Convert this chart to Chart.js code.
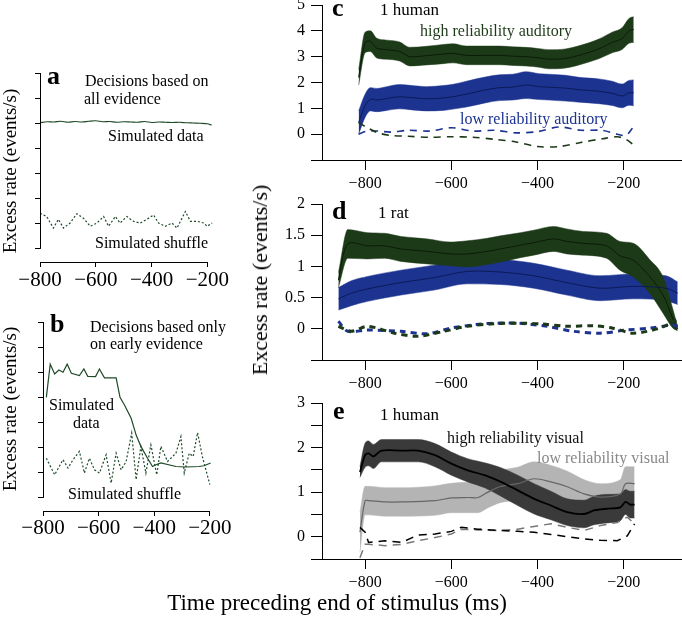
<!DOCTYPE html>
<html>
<head>
<meta charset="utf-8">
<script src="https://cdn.jsdelivr.net/npm/chart.js@4.4.1/dist/chart.umd.min.js"></script>
<style>
  body { margin: 0; background: #fff; }
  #fig { position: relative; width: 682px; height: 620px; overflow: hidden; font-family: "Liberation Serif", "Times New Roman", serif; }
  canvas { position: absolute; }
  .t { position: absolute; white-space: nowrap; line-height: 1; color: #000; }
</style>
</head>
<body>
<div id="fig">
  <canvas id="chartA" width="240" height="240" style="left:0;top:60px"></canvas>
  <canvas id="chartB" width="240" height="250" style="left:0;top:300px"></canvas>
  <canvas id="chartC" width="432" height="200" style="left:250px;top:0"></canvas>
  <canvas id="chartD" width="432" height="210" style="left:250px;top:190px"></canvas>
  <canvas id="chartE" width="432" height="208" style="left:250px;top:392px"></canvas>
</div>
<script>
// ====== Data (ms before end of stimulus, excess rate in events/s) ======
// a: decisions based on all evidence (simulated)
const aDataT = [-800, -775, -750, -725, -700, -675, -650, -625, -600, -575, -550, -525, -500, -475, -450, -425, -400, -375, -350, -325, -300, -275, -250, -225, -200, -185];
const aDataV = [5.02, 5.06, 5.05, 5.08, 5.04, 5.07, 5.05, 5.08, 5.1, 5.06, 5.07, 5.04, 5.06, 5.05, 5.04, 5.07, 5.03, 5.05, 5.04, 5.03, 5.04, 5.02, 5.01, 5.0, 4.98, 4.93];
const aShufT = [-800, -776, -752, -734, -716, -692, -668, -644, -620, -596, -572, -554, -530, -513, -489, -465, -441, -417, -393, -375, -351, -327, -309, -279, -261, -237, -213, -201, -183];
const aShufV = [1.42, 1.29, 0.83, 1.18, 0.83, 1.03, 1.4, 1.22, 0.9, 1.03, 1.29, 0.9, 1.29, 1.03, 1.29, 1.1, 1.03, 1.18, 1.35, 1.03, 0.9, 1.03, 0.83, 1.49, 1.1, 1.1, 1.03, 0.9, 1.03];

// b: decisions based only on early evidence (simulated)
const bDataT = [-788, -774, -758, -743, -728, -713, -698, -669, -653, -639, -611, -597, -579, -537, -523, -507, -483, -465, -448, -424, -406, -394, -376, -322, -286, -239, -221, -197];
const bDataV = [4.0, 5.32, 4.93, 5.09, 5.0, 5.32, 4.96, 4.87, 5.13, 4.84, 4.83, 5.13, 4.78, 4.78, 4.0, 3.7, 3.17, 2.5, 2.05, 1.58, 1.25, 1.32, 1.39, 1.25, 1.23, 1.25, 1.28, 1.39];
const bShufT = [-788, -758, -728, -710, -692, -669, -651, -633, -615, -597, -573, -555, -537, -519, -501, -481, -465, -448, -430, -412, -391, -376, -352, -322, -304, -292, -274, -260, -244, -227, -200];
const bShufV = [1.58, 0.92, 1.52, 1.19, 1.52, 1.85, 0.99, 1.58, 1.12, 0.99, 1.72, 0.59, 1.78, 1.12, 1.45, 2.58, 0.73, 2.05, 0.99, 2.11, 0.92, 2.05, 1.45, 1.78, 2.44, 0.99, 1.78, 1.65, 2.6, 1.65, 0.53];

// c: 1 human, auditory (mean and half band width)
const cT = [-815, -800, -788, -773, -750, -720, -696, -658, -619, -596, -565, -519, -488, -458, -427, -396, -373, -335, -304, -258, -227, -204, -188, -177];
const cHighM = [2.2, 3.55, 3.6, 3.33, 3.27, 3.2, 3.0, 3.04, 3.1, 3.13, 3.05, 3.05, 3.05, 3.02, 3.0, 2.95, 2.9, 2.93, 3.05, 3.3, 3.55, 3.7, 4.0, 4.05];
const cHighE = [0.3, 0.4, 0.4, 0.38, 0.37, 0.37, 0.36, 0.36, 0.37, 0.37, 0.36, 0.36, 0.36, 0.36, 0.36, 0.36, 0.37, 0.37, 0.37, 0.38, 0.4, 0.42, 0.48, 0.5];
const cLowM = [0.45, 1.1, 1.35, 1.32, 1.38, 1.45, 1.42, 1.37, 1.4, 1.45, 1.55, 1.72, 1.8, 1.82, 1.9, 1.84, 1.82, 1.78, 1.72, 1.66, 1.58, 1.48, 1.6, 1.6];
const cLowE = [0.45, 0.45, 0.45, 0.45, 0.46, 0.47, 0.47, 0.47, 0.48, 0.48, 0.5, 0.5, 0.5, 0.5, 0.52, 0.5, 0.5, 0.5, 0.48, 0.48, 0.47, 0.46, 0.48, 0.5];
const cDashT = [-815, -795, -770, -740, -700, -650, -600, -550, -500, -450, -400, -350, -300, -250, -215, -195, -177];
const cHighShuf = [0.45, 0.25, 0.05, -0.05, -0.08, -0.12, -0.1, -0.12, -0.2, -0.3, -0.48, -0.48, -0.32, -0.18, -0.1, -0.2, -0.42];
const cLowShuf = [0.0, 0.12, 0.12, 0.08, 0.15, 0.12, 0.25, 0.12, 0.15, 0.05, 0.1, 0.28, 0.15, 0.15, 0.0, -0.05, 0.3];

// d: 1 rat
const dHighT = [-862, -840, -794, -755, -717, -655, -602, -563, -517, -486, -440, -409, -363, -332, -294, -240, -209, -178, -140, -109, -86, -75];
const dHighM = [0.78, 1.36, 1.33, 1.33, 1.28, 1.24, 1.2, 1.2, 1.24, 1.28, 1.34, 1.38, 1.44, 1.4, 1.37, 1.33, 1.17, 1.1, 0.84, 0.54, 0.16, 0.0];
const dHighE = [0.12, 0.23, 0.21, 0.2, 0.2, 0.2, 0.19, 0.21, 0.21, 0.21, 0.2, 0.2, 0.2, 0.2, 0.19, 0.2, 0.23, 0.27, 0.27, 0.29, 0.15, 0.03];
const dLowT = [-862, -832, -794, -717, -640, -563, -486, -409, -332, -255, -178, -102, -75];
const dLowM = [0.48, 0.57, 0.64, 0.74, 0.82, 0.92, 0.91, 0.85, 0.74, 0.65, 0.68, 0.65, 0.57];
const dLowE = [0.18, 0.2, 0.2, 0.2, 0.2, 0.2, 0.2, 0.2, 0.2, 0.2, 0.2, 0.2, 0.18];
const dHighShufT = [-862, -832, -794, -732, -678, -617, -563, -502, -440, -394, -332, -271, -225, -178, -117, -78];
const dHighShuf = [0.04, -0.04, 0.04, -0.07, -0.12, -0.04, 0.04, 0.08, 0.09, 0.08, 0.04, 0.05, 0.01, -0.07, 0.01, 0.14];
const dLowShufT = [-862, -840, -794, -717, -655, -602, -525, -448, -378, -317, -255, -194, -140, -86, -75];
const dLowShuf = [0.12, -0.04, -0.02, -0.04, -0.08, 0.01, 0.08, 0.09, 0.04, -0.04, -0.07, -0.02, 0.01, 0.06, 0.04];

// e: 1 human, visual
const eHighT = [-812, -800, -792, -781, -762, -715, -677, -638, -600, -562, -523, -485, -446, -408, -369, -331, -292, -269, -238, -208, -196, -185, -175];
const eHighM = [1.45, 1.83, 1.87, 1.8, 1.93, 1.93, 1.93, 1.83, 1.64, 1.49, 1.38, 1.23, 1.04, 0.85, 0.7, 0.55, 0.51, 0.59, 0.63, 0.66, 0.78, 0.72, 0.72];
const eHighE = [0.12, 0.27, 0.28, 0.27, 0.25, 0.25, 0.25, 0.26, 0.26, 0.26, 0.28, 0.32, 0.34, 0.34, 0.32, 0.3, 0.31, 0.32, 0.32, 0.3, 0.28, 0.3, 0.3];
const eLowT = [-812, -800, -792, -754, -715, -638, -600, -562, -538, -515, -485, -446, -408, -369, -331, -292, -254, -208, -196, -175];
const eLowM = [0.1, 0.81, 0.81, 0.78, 0.78, 0.81, 0.87, 0.88, 0.88, 1.0, 1.13, 1.19, 1.3, 1.23, 1.12, 0.96, 0.89, 0.96, 1.19, 1.19];
const eLowE = [0.45, 0.32, 0.32, 0.32, 0.32, 0.33, 0.33, 0.34, 0.34, 0.35, 0.36, 0.37, 0.38, 0.37, 0.35, 0.32, 0.3, 0.32, 0.38, 0.38];
const eDashT = [-812, -800, -792, -754, -715, -677, -638, -600, -577, -538, -485, -446, -408, -369, -331, -292, -254, -215, -192, -175];
const eHighShuf = [0.21, 0.1, -0.13, -0.09, -0.13, 0.04, 0.06, 0.12, 0.21, 0.17, 0.14, 0.12, 0.1, 0.05, 0.0, -0.05, -0.08, -0.09, 0.02, 0.29];
const eLowShuf = [-0.47, -0.17, -0.17, -0.2, -0.17, -0.09, -0.02, 0.06, 0.17, 0.15, 0.14, 0.17, 0.23, 0.29, 0.21, 0.14, 0.25, 0.32, 0.44, 0.29];

// tick values
const xTicks = [-800, -600, -400, -200];
const simYTicks = [0, 1, 2, 3, 4, 5, 6, 7];
const cYTicks = [-1, 0, 1, 2, 3, 4, 5];
const dYTicks = [-0.5, 0, 0.5, 1, 1.5, 2];
const eYTicks = [-0.5, 0, 0.5, 1, 1.5, 2, 2.5, 3];

// ====== Colours ======
const GREEN = "#1d3a18", GREEN_D = "#0b1b08";
const BLUE = "#1c3390", BLUE_D = "#0c1a58";
const BLACK = "#3a3a3a", GREY = "#b4b4b4", GREY_D = "#666666";
const SIM = "#1e4a28";

Chart.defaults.font.family = '"Liberation Serif", "Times New Roman", serif';
Chart.defaults.color = "#000";
Chart.defaults.animation = false;

const minus = v => String(v).replace("-", "\u2212");
const pts = (T, V) => T.map((t, i) => ({ x: t, y: V[i] }));

function line(T, V, color, width, dash, order, tension) {
    return {
        data: pts(T, V), borderColor: color, borderWidth: width, borderDash: dash || [],
        pointRadius: 0, fill: false, order, tension: tension || 0,
    };
}

function band(T, M, E, color, order) {
    return [
        { data: T.map((t, i) => ({ x: t, y: M[i] + E[i] })), fill: "+1", backgroundColor: color,
          borderColor: color, borderWidth: 0.5, pointRadius: 0, order, cubicInterpolationMode: "monotone" },
        { data: T.map((t, i) => ({ x: t, y: M[i] - E[i] })), fill: false,
          borderColor: color, borderWidth: 0.5, pointRadius: 0, order, cubicInterpolationMode: "monotone" },
    ];
}

// axis lines that stop at given values (panels a and b)
const spines = {
    id: "spines",
    afterDraw(chart, args, opts) {
        if (!opts.x) return;
        const { ctx, chartArea, scales } = chart;
        ctx.save();
        ctx.strokeStyle = "#000";
        ctx.lineWidth = 1;
        ctx.beginPath();
        const x0 = Math.round(chartArea.left) + 0.5;
        ctx.moveTo(x0, scales.y.getPixelForValue(opts.y[0]));
        ctx.lineTo(x0, scales.y.getPixelForValue(opts.y[1]));
        const yb = Math.round(chartArea.bottom) + 0.5;
        ctx.moveTo(scales.x.getPixelForValue(opts.x[0]), yb);
        ctx.lineTo(scales.x.getPixelForValue(opts.x[1]), yb);
        ctx.stroke();
        ctx.restore();
    },
};

function makeChart(id, p) {
    return new Chart(document.getElementById(id), {
        type: "line",
        data: { datasets: p.datasets },
        plugins: [spines],
        options: {
            responsive: false,
            layout: { padding: p.padding },
            plugins: { legend: { display: false }, tooltip: { enabled: false }, spines: p.spines || {} },
            scales: {
                x: {
                    type: "linear", min: p.xMin, max: p.xMax,
                    afterBuildTicks: s => { s.ticks = xTicks.map(v => ({ value: v })); },
                    afterFit: s => { s.height = p.xH; s.paddingLeft = 0; s.paddingRight = 0; },
                    grid: { drawOnChartArea: false, tickLength: p.xTick, color: "#000" },
                    border: { display: !p.spines, color: "#000" },
                    ticks: { callback: v => minus(v), padding: p.xPad, font: { size: p.font }, maxRotation: 0, autoSkip: false },
                },
                y: {
                    type: "linear", min: p.yMin, max: p.yMax,
                    afterBuildTicks: s => { s.ticks = p.yTicks.map(v => ({ value: v })); },
                    afterFit: s => { s.width = p.yW; s.paddingTop = 0; s.paddingBottom = 0; },
                    grid: { drawOnChartArea: false, tickLength: p.yTick, color: "#000" },
                    border: { display: !p.spines, color: "#000" },
                    ticks: { callback: v => (p.yLabel ? p.yLabel(v) : ""), padding: 6, font: { size: p.font }, autoSkip: false },
                },
            },
        },
    });
}

// ====== Panel a ======
makeChart("chartA", {
    datasets: [
        line(aDataT, aDataV, SIM, 1.2, null, 1, 0.3),
        line(aShufT, aShufV, SIM, 1.2, [2, 2], 2),
    ],
    padding: { left: 0, right: 27, top: 13, bottom: 0 },
    xMin: -800, xMax: -180, yMin: -0.52, yMax: 7, yTicks: simYTicks,
    xH: 38, yW: 40, xTick: 5, yTick: 5, xPad: 1, font: 21,
    spines: { x: [-800, -200], y: [0, 7] },
});

// ====== Panel b ======
makeChart("chartB", {
    datasets: [
        line(bDataT, bDataV, SIM, 1.2, null, 1),
        line(bShufT, bShufV, SIM, 1.2, [2, 2], 2),
    ],
    padding: { left: 0, right: 26, top: 22, bottom: 0 },
    xMin: -800, xMax: -185, yMin: -0.52, yMax: 7, yTicks: simYTicks,
    xH: 39, yW: 43, xTick: 5, yTick: 5, xPad: 0, font: 21,
    spines: { x: [-800, -200], y: [0, 7] },
});

// ====== Panel c ======
makeChart("chartC", {
    datasets: [
        ...band(cT, cHighM, cHighE, GREEN, 6),
        ...band(cT, cLowM, cLowE, BLUE, 6),
        line(cT, cHighM, GREEN_D, 1, null, 3, 0.3),
        line(cT, cLowM, BLUE_D, 1, null, 3, 0.3),
        line(cDashT, cHighShuf, GREEN, 1.6, [7, 6], 1, 0.3),
        line(cDashT, cLowShuf, BLUE, 1.6, [7, 6], 1, 0.3),
    ],
    padding: { left: 0, right: 0, top: 5, bottom: 0 },
    xMin: -900, xMax: -65, yMin: -1, yMax: 5, yTicks: cYTicks,
    yLabel: v => (v < 0 ? "" : String(v)),
    xH: 40, yW: 72, xTick: 10, yTick: 11, xPad: 4, font: 16,
});

// ====== Panel d ======
makeChart("chartD", {
    datasets: [
        ...band(dHighT, dHighM, dHighE, GREEN, 5),
        ...band(dLowT, dLowM, dLowE, BLUE, 6),
        line(dHighT, dHighM, GREEN_D, 1, null, 2, 0.3),
        line(dLowT, dLowM, BLUE_D, 1, null, 3, 0.3),
        line(dHighShufT, dHighShuf, GREEN, 3, [6, 5], 1, 0.3),
        line(dLowShufT, dLowShuf, BLUE, 3, [6, 5], 1, 0.3),
    ],
    padding: { left: 0, right: 0, top: 14, bottom: 0 },
    xMin: -900, xMax: -65, yMin: -0.5, yMax: 2, yTicks: dYTicks,
    yLabel: v => (v < 0 ? "" : String(v)),
    xH: 40, yW: 72, xTick: 10, yTick: 11, xPad: 4, font: 16,
});

// ====== Panel e ======
makeChart("chartE", {
    datasets: [
        ...band(eHighT, eHighM, eHighE, BLACK, 5),
        ...band(eLowT, eLowM, eLowE, GREY, 6),
        line(eHighT, eHighM, "#000", 1.8, null, 2, 0.3),
        line(eLowT, eLowM, GREY_D, 1.2, null, 3, 0.3),
        line(eDashT, eHighShuf, "#000", 1.5, [8, 6], 1),
        line(eDashT, eLowShuf, "#777", 1.5, [8, 6], 1),
    ],
    padding: { left: 0, right: 0, top: 11, bottom: 0 },
    xMin: -900, xMax: -65, yMin: -0.5, yMax: 3, yTicks: eYTicks,
    yLabel: v => (v >= 0 && Number.isInteger(v) ? String(v) : ""),
    xH: 41, yW: 72, xTick: 10, yTick: 11, xPad: 4, font: 16,
});

// ====== Texts ======
const fig = document.getElementById("fig");
function txt(s, x, base, size, opt) {
    const o = opt || {};
    const d = document.createElement("div");
    d.className = "t";
    d.textContent = s;
    d.style.fontSize = size + "px";
    d.style.left = x + "px";
    d.style.top = (base - 0.8375 * size) + "px";
    if (o.bold) d.style.fontWeight = "bold";
    if (o.color) d.style.color = o.color;
    fig.appendChild(d);
}
function vtxt(s, cx, cy, size) {
    const d = document.createElement("div");
    d.className = "t";
    d.textContent = s;
    d.style.fontSize = size + "px";
    d.style.left = cx + "px";
    d.style.top = cy + "px";
    d.style.transform = "translate(-50%,-50%) rotate(-90deg)";
    fig.appendChild(d);
}

txt("a", 47, 85, 26, { bold: true });
txt("Decisions based on", 85, 86, 16);
txt("all evidence", 84, 104, 16);
txt("Simulated data", 108, 141, 16);
txt("Simulated shuffle", 95, 248, 16);

txt("b", 50, 333, 26, { bold: true });
txt("Decisions based only", 90, 332, 16);
txt("on early evidence", 90, 349, 16);
txt("Simulated", 49, 410, 16);
txt("data", 73, 428, 16);
txt("Simulated shuffle", 68, 499, 16);

txt("c", 332, 17, 26, { bold: true });
txt("1 human", 380, 15, 17);
txt("high reliability auditory", 420, 36, 16, { color: GREEN });
txt("low reliability auditory", 460, 124, 16, { color: BLUE });

txt("d", 332, 220, 26, { bold: true });
txt("1 rat", 378, 218, 17);

txt("e", 333, 420, 26, { bold: true });
txt("1 human", 380, 420, 17);
txt("high reliability visual", 447, 443, 16, { color: "#111" });
txt("low reliability visual", 537, 463, 16, { color: "#888" });

vtxt("Excess rate (events/s)", 9, 171, 19);
vtxt("Excess rate (events/s)", 9, 409, 19);
vtxt("Excess rate (events/s)", 260, 280, 22);

const xt = document.createElement("div");
xt.className = "t";
xt.textContent = "Time preceding end of stimulus (ms)";
xt.style.fontSize = "23px";
xt.style.left = "337px";
xt.style.top = (610 - 0.8375 * 23) + "px";
xt.style.transform = "translateX(-50%)";
fig.appendChild(xt);
</script>
</body>
</html>
